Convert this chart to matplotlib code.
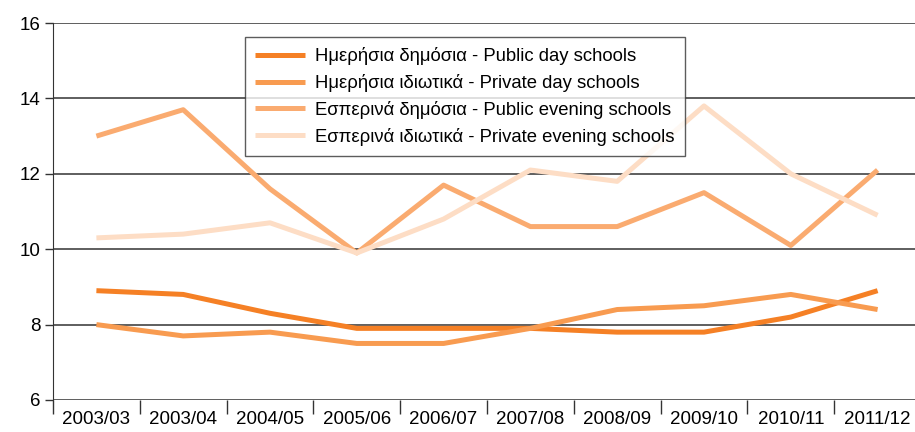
import matplotlib.pyplot as plt
from matplotlib.ticker import FixedLocator

plt.rcParams['font.family'] = ['Liberation Sans', 'DejaVu Sans']

years = ['2003/03', '2003/04', '2004/05', '2005/06', '2006/07',
         '2007/08', '2008/09', '2009/10', '2010/11', '2011/12']

public_day = [8.9, 8.8, 8.3, 7.9, 7.9, 7.9, 7.8, 7.8, 8.2, 8.9]
private_day = [8.0, 7.7, 7.8, 7.5, 7.5, 7.9, 8.4, 8.5, 8.8, 8.4]
public_evening = [13.0, 13.7, 11.6, 9.9, 11.7, 10.6, 10.6, 11.5, 10.1, 12.1]
private_evening = [10.3, 10.4, 10.7, 9.9, 10.8, 12.1, 11.8, 13.8, 12.0, 10.9]

labels = ['Ημερήσια δημόσια - Public day schools',
          'Ημερήσια ιδιωτικά - Private day schools',
          'Εσπερινά δημόσια - Public evening schools',
          'Εσπερινά ιδιωτικά - Private evening schools']
colors = ['#F58025', '#F89B50', '#FAAB70', '#FDDDC5']

fig = plt.figure(figsize=(9.15, 4.32), dpi=100)
ax = fig.add_axes([53 / 915, 32 / 432, 868 / 915, 377 / 432])

x = range(len(years))
for series, lab, col in zip([public_day, private_day, public_evening, private_evening],
                            labels, colors):
    ax.plot(x, series, color=col, lw=3.6, label=lab, solid_capstyle='butt', zorder=3)

ax.set_xlim(-0.5, len(years) - 0.5)
ax.set_ylim(6, 16)
ax.set_yticks([6, 8, 10, 12, 14, 16])
for y in [6, 8, 10, 12, 14, 16]:
    ax.axhline(y, color='#333333', lw=1.1, zorder=1)

# category labels centred, tick marks between categories
ax.set_xticks(list(x))
ax.set_xticklabels(years, fontsize=13.5)
ax.tick_params(axis='x', which='major', length=0, pad=8)
ax.xaxis.set_minor_locator(FixedLocator([i + 0.5 for i in range(-1, len(years))]))
ax.tick_params(axis='x', which='minor', length=10, width=1, color='#333333')
ax.tick_params(axis='y', length=6, width=1, color='#333333', labelsize=13.5, pad=3)

for s in ['top', 'right', 'bottom']:
    ax.spines[s].set_visible(False)
ax.spines['left'].set_color('#333333')

leg = ax.legend(loc='upper left', bbox_to_anchor=(192 / 868, 1 - 14 / 377),
                fontsize=13.3, frameon=True, fancybox=False, handlelength=2.7,
                borderpad=0.55, labelspacing=0.48, handletextpad=0.55,
                borderaxespad=0)
leg.get_frame().set_edgecolor('#333333')
leg.get_frame().set_linewidth(1)

fig.savefig('out.png', dpi=100)
